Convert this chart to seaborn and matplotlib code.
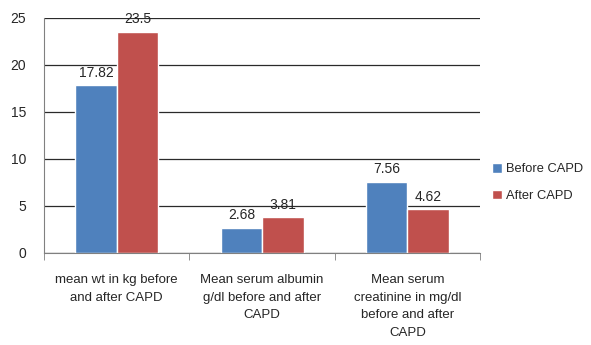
import pandas as pd
import matplotlib
matplotlib.use('Agg')
import matplotlib.pyplot as plt
import seaborn as sns
import numpy as np

categories = ['mean wt in kg before\nand after CAPD',
              'Mean serum albumin\ng/dl before and after\nCAPD',
              'Mean serum\ncreatinine in mg/dl\nbefore and after\nCAPD']
before = [17.82, 2.68, 7.56]
after = [23.5, 3.81, 4.62]
series = ['Before CAPD', 'After CAPD']
colors = ['#4F81BD', '#C0504D']

df = pd.DataFrame({
    'category': categories * 2,
    'value': before + after,
    'series': [series[0]] * 3 + [series[1]] * 3,
})

sns.set_style('white')
plt.rcParams['font.family'] = ['Liberation Sans', 'DejaVu Sans']

fig = plt.figure(figsize=(5.91, 3.45), dpi=100)
ax = fig.add_axes([0.0745, 0.267, 0.738, 0.681])
sns.barplot(data=df, x='category', y='value', hue='series', palette=colors,
            width=0.57, saturation=1, ax=ax, legend=True)

for c in ax.containers:
    ax.bar_label(c, labels=[f'{v:g}' for v in c.datavalues], padding=4, fontsize=10)

ax.set_ylim(0, 25)
ax.set_xlim(-0.5, 2.5)
ax.set_yticks(np.arange(0, 26, 5))
ax.yaxis.grid(True, color='#2a2a2a', linewidth=0.9)
ax.set_axisbelow(True)
for s in ['top', 'right']:
    ax.spines[s].set_visible(False)
ax.spines['left'].set_color('#808080')
ax.spines['bottom'].set_color('#808080')
ax.set_xlabel('')
ax.set_ylabel('')
ax.set_xticks([0, 1, 2])
ax.set_xticklabels(categories, fontsize=9.5, linespacing=1.65)
ax.tick_params(axis='x', length=0, pad=15)
ax.tick_params(axis='y', length=0, labelsize=10, pad=13)
ax.set_xticks([-0.5, 0.5, 1.5, 2.5], minor=True)
ax.tick_params(axis='x', which='minor', length=5, color='#808080', direction='out', bottom=True)

ax.legend(loc='center left', bbox_to_anchor=(1.0, 0.30), frameon=False,
          fontsize=9.3, handlelength=0.8, handleheight=0.8, handletextpad=0.3,
          labelspacing=1.1)

fig.savefig('out.png', dpi=100)
